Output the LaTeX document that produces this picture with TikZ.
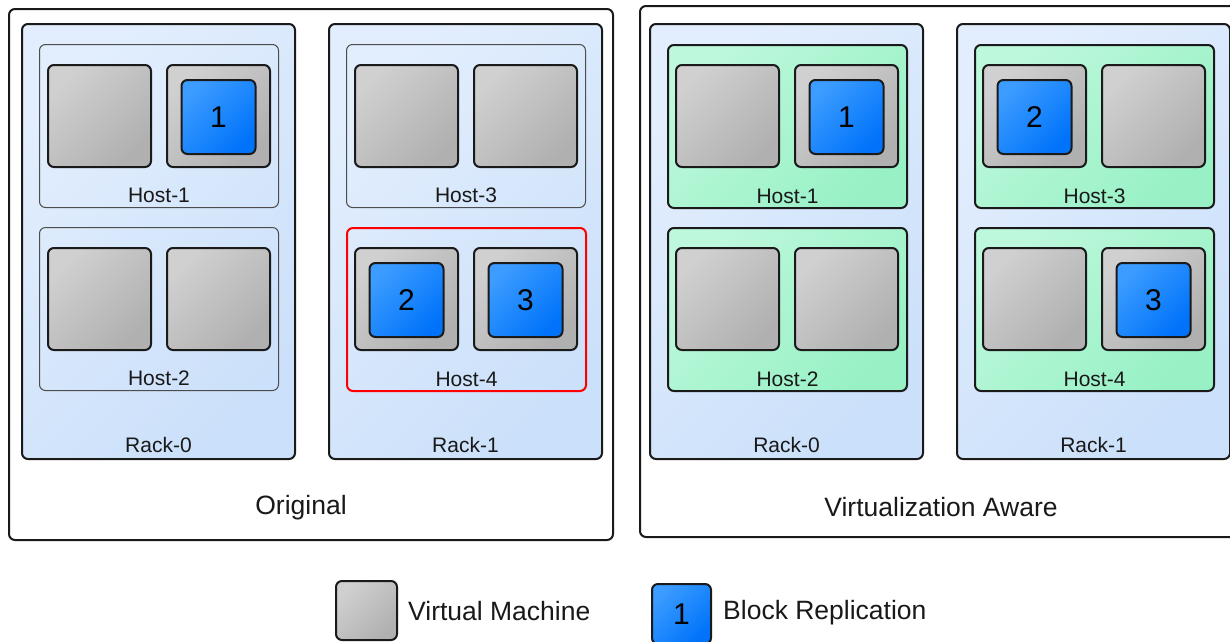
\documentclass[tikz,border=0pt]{standalone}
\usepackage{fontspec}
\setmainfont{Liberation Sans}
\definecolor{rackA}{HTML}{E2EEFD}
\definecolor{rackB}{HTML}{CBE0FA}
\definecolor{hostA}{HTML}{BDF8DC}
\definecolor{hostB}{HTML}{98F1C5}
\definecolor{vmA}{HTML}{D0D0D0}
\definecolor{vmB}{HTML}{B0B0B0}
\definecolor{blkA}{HTML}{3C9CFF}
\definecolor{blkB}{HTML}{0073FA}
\definecolor{edge}{HTML}{1A1A1A}
\begin{document}
\begin{tikzpicture}[x=1pt,y=-1pt,
  panel/.style={draw=edge, line width=2pt, fill=white, rounded corners=6pt},
  rack/.style={draw=edge, line width=2pt, rounded corners=6pt,
    top color=rackA, bottom color=rackB, shading angle=45},
  plainhost/.style={draw=black!70, line width=1pt, rounded corners=6pt,
    minimum width=239pt, minimum height=163pt, anchor=north west, inner sep=0pt},
  redhost/.style={plainhost, draw=red, line width=2pt},
  greenhost/.style={plainhost, draw=edge, line width=2pt,
    top color=hostA, bottom color=hostB, shading angle=45},
  vm/.style={draw=edge, line width=2pt, rounded corners=6pt,
    top color=vmA, bottom color=vmB, shading angle=45,
    minimum width=103pt, minimum height=102pt, anchor=north west, inner sep=0pt},
  block/.style={draw=edge, line width=2pt, rounded corners=6pt,
    top color=blkA, bottom color=blkB, shading angle=45,
    minimum width=74pt, minimum height=74pt, inner sep=0pt,
    font=\fontsize{30}{30}\selectfont},
  lbl/.style={font=\fontsize{21}{24}\selectfont, text=black!90, inner sep=0pt},
  title/.style={font=\fontsize{26.5}{30}\selectfont, text=black!90, inner sep=0pt},
]
\clip (0,0) rectangle (1230,641);

% ---------- panels ----------
\draw[panel] (9,9) rectangle (613,540);
\draw[panel] (640,6) rectangle (1245,537);
\node[title] (tO) at (301,508) {Original};
\node[title] (tV) at (941,507) {Virtualization Aware};

% ---------- racks ----------
\draw[rack] (22,24) rectangle (295,459);
\draw[rack] (329,24) rectangle (602,459);
\draw[rack] (650,24) rectangle (923,459);
\draw[rack] (957,24) rectangle (1230,459);
\node[lbl] at (158.5,445) {Rack-0};
\node[lbl] at (465.5,445) {Rack-1};
\node[lbl] at (786.5,445) {Rack-0};
\node[lbl] at (1093.5,445) {Rack-1};

% ---------- hosts ----------
\newcommand\drawhost[5]{%
  % #1 name, #2 style, #3 x, #4 y, #5 label
  \node[#2] (#1) at (#3,#4) {};
  \node[vm] (#1a) at ([shift={(8,20)}]#1.north west) {};
  \node[vm] (#1b) at ([shift={(127,20)}]#1.north west) {};
  \node[lbl] at ([yshift=13pt]#1.south) {#5};
}
\drawhost{OA}{plainhost}{39}{44}{Host-1}
\drawhost{OB}{plainhost}{39}{227}{Host-2}
\drawhost{OC}{plainhost}{346}{44}{Host-3}
\drawhost{OD}{redhost}{346}{227}{Host-4}
\drawhost{VA}{greenhost}{667}{44}{Host-1}
\drawhost{VB}{greenhost}{667}{227}{Host-2}
\drawhost{VC}{greenhost}{974}{44}{Host-3}
\drawhost{VD}{greenhost}{974}{227}{Host-4}

% ---------- replicated blocks ----------
\node[block] (o1) at ([yshift=-1pt]OAb.center) {1};
\node[block] (o2) at ([yshift=-1pt]ODa.center) {2};
\node[block] (o3) at ([yshift=-1pt]ODb.center) {3};
\node[block] (v1) at ([yshift=-1pt]VAb.center) {1};
\node[block] (v2) at ([yshift=-1pt]VCa.center) {2};
\node[block] (v3) at ([yshift=-1pt]VDb.center) {3};

% ---------- legend ----------
\node[vm, minimum width=61pt, minimum height=59pt] (legvm) at (335,580) {};
\node[title, anchor=west] at (408,611) {Virtual Machine};
\node[block, minimum width=59pt, minimum height=60pt, anchor=north west] (legblk) at (651,583) {1};
\node[title, anchor=west] at (723,613) {Block Replication};
\end{tikzpicture}
\end{document}
